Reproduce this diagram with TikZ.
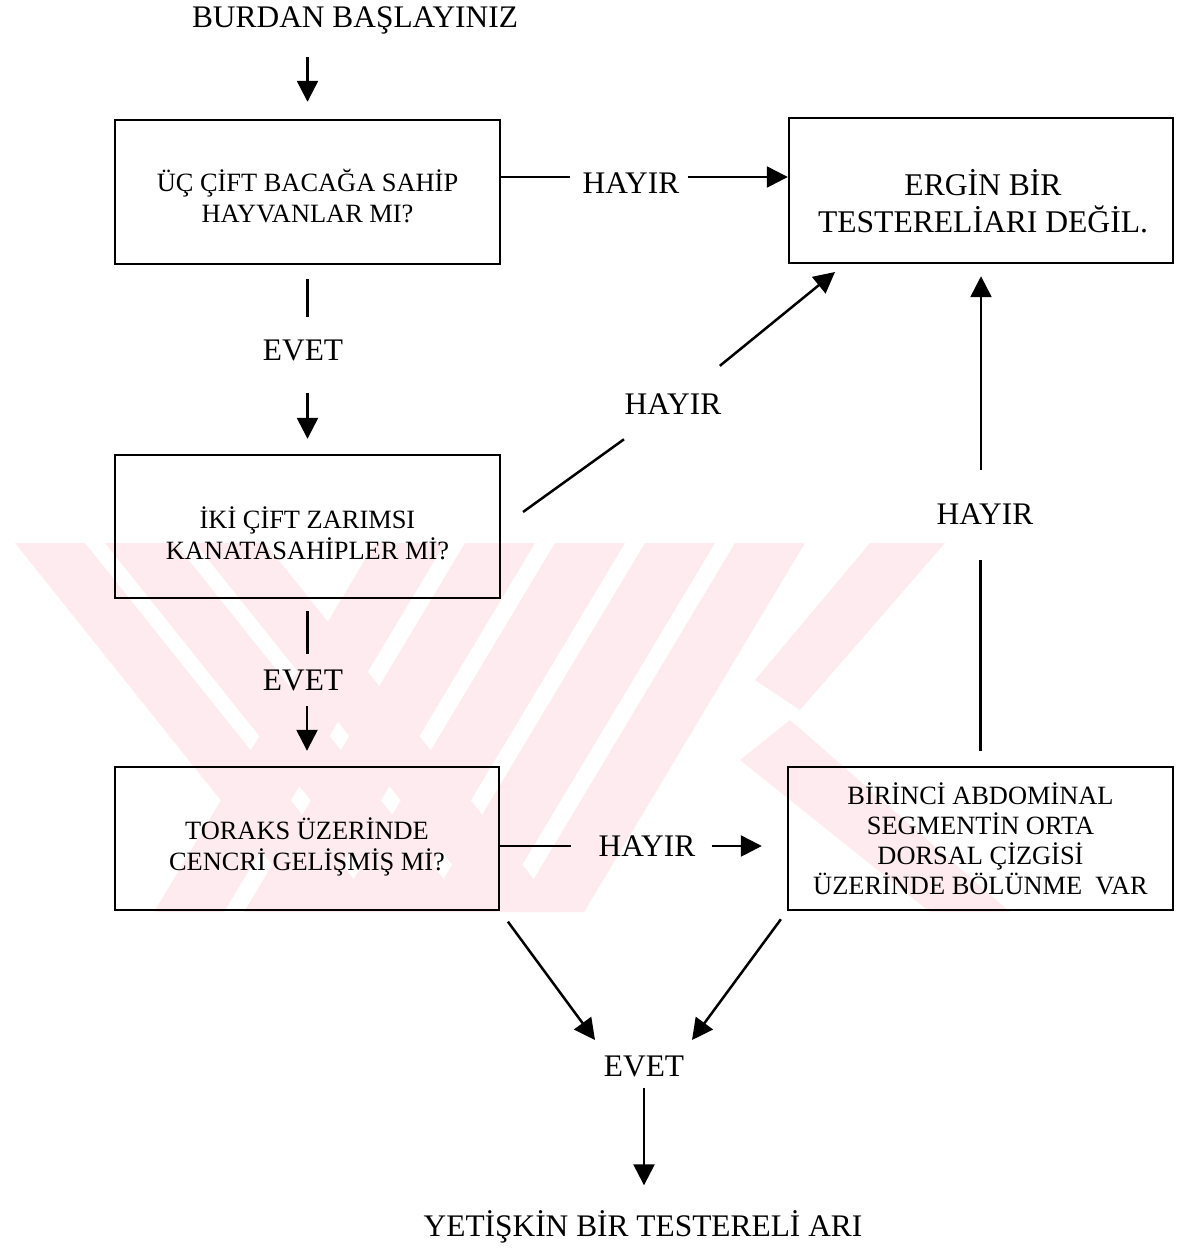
\documentclass[tikz,border=0pt]{standalone}
\usepackage{fontspec}
\setmainfont{Liberation Serif}
\usetikzlibrary{arrows.meta}
\begin{document}
\begin{tikzpicture}[x=0.5pt,y=-0.5pt,
  box/.style={draw, line width=1.2pt, inner sep=0pt},
  txt/.style={align=center, font=\fontsize{13.2}{15.5}\selectfont, inner sep=0pt},
  lbl/.style={font=\fontsize{15.7}{19}\selectfont, inner sep=0pt},
  conn/.style={line width=1.25pt},
  arr/.style={conn, -{Triangle[length=10.5pt,width=10.5pt]}},
  wm/.style={fill={rgb,255:red,253;green,235;blue,239}}]
\path[use as bounding box] (0,0) rectangle (1190,1252);

% watermark
\begin{scope}
\clip (0,543) rectangle (1190,912);
\fill[wm] (15,543) -- (85,543) -- (380,912) -- (310,912) -- cycle;
\fill[wm] (105,543) -- (175,543) -- (470,912) -- (400,912) -- cycle;
\fill[wm] (195,543) -- (265,543) -- (560,912) -- (490,912) -- cycle;
\fill[wm] (375,543) -- (445,543) -- (224,912) -- (154,912) -- cycle;
\fill[wm] (465,543) -- (535,543) -- (314,912) -- (244,912) -- cycle;
\fill[wm] (555,543) -- (625,543) -- (404,912) -- (334,912) -- cycle;
\fill[wm] (645,543) -- (715,543) -- (494,912) -- (424,912) -- cycle;
\fill[wm] (735,543) -- (805,543) -- (584,912) -- (514,912) -- cycle;
\fill[wm] (870,543) -- (945,543) -- (800,710) -- (755,680) -- cycle;
\fill[wm] (740,760) -- (790,720) -- (1010,912) -- (930,912) -- cycle;
\end{scope}

% boxes
\node[box, minimum width=192.5pt, minimum height=72pt] (b1) at (307.5,192) {};
\node[box, minimum width=192pt, minimum height=72.5pt] (b2) at (981,190.5) {};
\node[box, minimum width=192.5pt, minimum height=71.5pt] (b3) at (307.5,526.5) {};
\node[box, minimum width=192pt, minimum height=71.5pt] (b4) at (307,838.5) {};
\node[box, minimum width=192.5pt, minimum height=71.5pt] (b5) at (980.5,838.5) {};

% box texts
\node[txt] (t1) at (307.5,196) {ÜÇ ÇİFT BACAĞA SAHİP\\HAYVANLAR MI?};
\node[txt, font=\fontsize{15.8}{18.5}\selectfont] (t2) at (983,201) {ERGİN BİR\\TESTERELİARI DEĞİL.};
\node[txt] (t3) at (307.5,533) {İKİ ÇİFT ZARIMSI\\KANATASAHİPLER Mİ?};
\node[txt] (t4) at (307,847) {TORAKS ÜZERİNDE\\CENCRİ GELİŞMİŞ Mİ?};
\node[txt, font=\fontsize{13.2}{15}\selectfont] (t5) at (980.5,839) {BİRİNCİ ABDOMİNAL\\SEGMENTİN ORTA\\DORSAL ÇİZGİSİ\\ÜZERİNDE BÖLÜNME\ \ VAR};

% labels
\node[lbl] (title) at (355,20) {BURDAN BAŞLAYINIZ};
\node[lbl] (h1) at (631,183) {HAYIR};
\node[lbl] (e1) at (303,350) {EVET};
\node[lbl, circle, minimum size=60pt] (h2) at (673,404) {HAYIR};
\node[lbl] (e2) at (303,680) {EVET};
\node[lbl] (h3) at (647,846) {HAYIR};
\node[lbl] (h4) at (985,514) {HAYIR};
\node[lbl] (e3) at (644,1066) {EVET};
\node[lbl] (fin) at (643,1227) {YETİŞKİN BİR TESTERELİ ARI};

\coordinate (d1) at (523,512);
\coordinate (d2) at (835,272);
\coordinate (f1) at (595,1040);
\coordinate (f2) at (692,1040);

% connectors
\draw[arr, shorten <=11.5pt, shorten >=8.5pt] (b1.north |- title.south) -- (b1.north);

\draw[conn, shorten >=6pt] ([yshift=3pt]h1.west -| b1.east) -- ([yshift=3pt]h1.west);
\draw[arr, shorten <=4pt] ([yshift=3pt]h1.east) -- ([yshift=3pt]h1.east -| b2.west);

\draw[conn, shorten <=7pt, shorten >=10.8pt] (b1.south) -- (b1.south |- e1.north);
\draw[arr, shorten <=15.8pt, shorten >=7.5pt] (b3.north |- e1.south) -- (b3.north);

\draw[conn] (d1) -- (h2);
\draw[arr] (h2) -- (d2);

\draw[conn, shorten <=6pt, shorten >=7.3pt] (b3.south) -- (b3.south |- e2.north);
\draw[arr, shorten <=7.3pt, shorten >=7.5pt] (b4.north |- e2.south) -- (b4.north);

\draw[conn, shorten >=13.5pt] (h3.west -| b4.east) -- (h3.west);
\draw[arr, shorten <=8pt, shorten >=12.5pt] (h3.east) -- (h3.east -| b5.west);

\draw[conn, shorten <=7.5pt, shorten >=17.8pt] (b5.north) -- (b5.north |- h4.south);
\draw[arr, shorten <=16.8pt, shorten >=6pt] (b2.south |- h4.north) -- (b2.south);

\draw[arr, shorten <=6.5pt] (b4.south east) -- (f1);
\draw[arr, shorten <=5pt] (b5.south west) -- (f2);

\draw[arr, shorten <=5.3pt, shorten >=12.5pt] (e3.south) -- (e3.south |- fin.north);
\end{tikzpicture}
\end{document}
